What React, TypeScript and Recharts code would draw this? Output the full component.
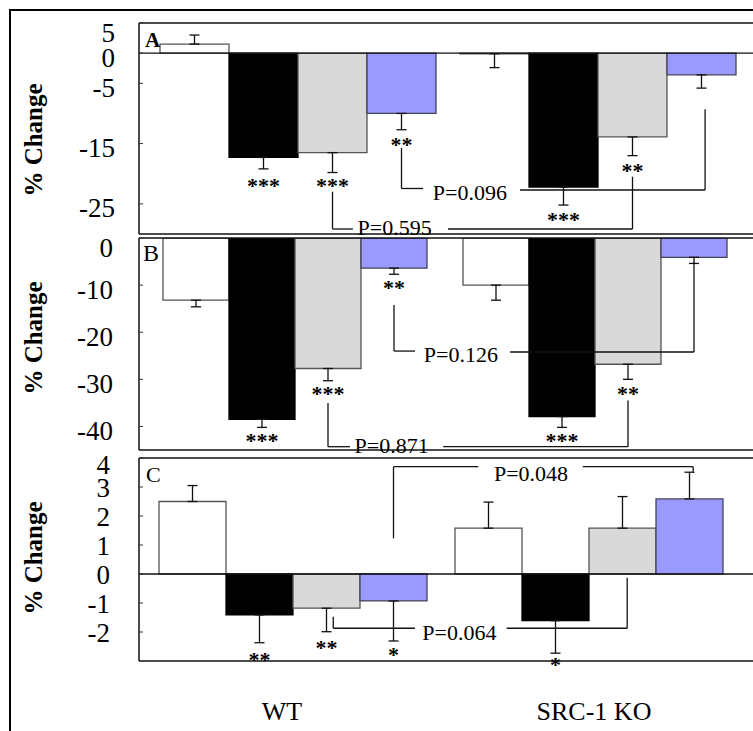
import React from 'react';
import { BarChart, Bar, XAxis, YAxis, ErrorBar, ReferenceLine, ReferenceDot } from 'recharts';

const FONT = "'Liberation Serif', 'Times New Roman', Times, serif";
const W = 753;
const H = 731;
const PLOT_LEFT = 139;
const PLOT_W = W - PLOT_LEFT;

const groups = ['WT', 'SRC-1 KO'];
const groupEdges = [0, 2];
const seriesKeys = ['white', 'black', 'gray', 'blue'];
const seriesFill = ['#ffffff', '#000000', '#d9d9d9', '#9999ff'];
const seriesStroke = ['#555555', '#000000', '#555555', '#444455'];

// panel A
const aWhite = [1.5, -0.1];
const aWhiteErr = [1.5, 2.3];
const aBlack = [-17.3, -22.2];
const aBlackErr = [1.9, 3.0];
const aGray = [-16.5, -13.9];
const aGrayErr = [3.3, 3.1];
const aBlue = [-10.0, -3.6];
const aBlueErr = [2.7, 2.2];
const aTicks = [5, 0, -5, -15, -25];

// panel B
const bWhite = [-13.2, -10.0];
const bWhiteErr = [1.4, 3.2];
const bBlack = [-38.5, -37.9];
const bBlackErr = [1.7, 2.3];
const bGray = [-27.7, -26.8];
const bGrayErr = [2.6, 3.2];
const bBlue = [-6.4, -4.1];
const bBlueErr = [1.3, 1.3];
const bTicks = [0, -10, -20, -30, -40];

// panel C
const cWhite = [2.5, 1.58];
const cWhiteErr = [0.55, 0.9];
const cBlack = [-1.41, -1.61];
const cBlackErr = [0.96, 1.12];
const cGray = [-1.18, 1.58];
const cGrayErr = [0.81, 1.09];
const cBlue = [-0.93, 2.59];
const cBlueErr = [1.38, 0.92];
const cTicks = [4, 3, 2, 1, 0, -1, -2];

type X = number | [number, number]; // number = position on the group axis, [group, series] = bar centre
type Pt = [X, number];
interface Star { g: number; s: number; y: number; t: string }
interface Bracket { left: Pt[]; right: Pt[]; text: string; at: Pt }

const aStars: Star[] = [
  { g: 0, s: 1, y: -21.5, t: '***' },
  { g: 0, s: 2, y: -21.5, t: '***' },
  { g: 0, s: 3, y: -14.7, t: '**' },
  { g: 1, s: 1, y: -27.2, t: '***' },
  { g: 1, s: 2, y: -19.05, t: '**' },
];
const bStars: Star[] = [
  { g: 0, s: 1, y: -42.45, t: '***' },
  { g: 0, s: 2, y: -32.6, t: '***' },
  { g: 0, s: 3, y: -9.98, t: '**' },
  { g: 1, s: 1, y: -42.45, t: '***' },
  { g: 1, s: 2, y: -32.4, t: '**' },
];
const cStars: Star[] = [
  { g: 0, s: 1, y: -2.86, t: '**' },
  { g: 0, s: 2, y: -2.45, t: '**' },
  { g: 0, s: 3, y: -2.7, t: '*' },
  { g: 1, s: 1, y: -3.03, t: '*' },
];

const aBrackets: Bracket[] = [
  {
    left: [[[0, 3], -15.7], [[0, 3], -22.45], [0.917, -22.45]],
    right: [[1.24, -22.7], [1.857, -22.7], [1.857, -9.3]],
    text: 'P=0.096', at: [1.073, -24.36],
  },
  {
    left: [[[0, 2], -23.0], [[0, 2], -29.17], [0.683, -29.17]],
    right: [[1.0, -29.17], [[1, 2], -29.17], [[1, 2], -20.5]],
    text: 'P=0.595', at: [0.822, -30.16],
  },
];
const bBrackets: Bracket[] = [
  {
    left: [[[0, 3], -14.2], [[0, 3], -24.0], [0.9, -24.0]],
    right: [[1.217, -24.2], [[1, 3], -24.2], [[1, 3], -5.1]],
    text: 'P=0.126', at: [1.053, -26.3],
  },
  {
    left: [[[0, 2], -35.0], [[0, 2], -44.3], [0.683, -44.3]],
    right: [[0.994, -44.3], [[1, 2], -44.3], [[1, 2], -34.5]],
    text: 'P=0.871', at: [0.822, -45.6],
  },
];
const cBrackets: Bracket[] = [
  {
    left: [[[0, 3], 1.23], [[0, 3], 3.7], [1.126, 3.7]],
    right: [[1.479, 3.7], [1.852, 3.7], [1.852, 3.53]],
    text: 'P=0.048', at: [1.304, 3.21],
  },
  {
    left: [[0.636, -1.47], [0.636, -1.87], [0.912, -1.87]],
    right: [[1.222, -1.87], [1.629, -1.87], [1.629, -0.13]],
    text: 'P=0.064', at: [1.062, -2.28],
  },
];

const xNudge: Record<string, number> = { WT: -11, 'SRC-1 KO': 5 };

interface PanelCfg {
  letter: string; letterBold: boolean; letterSize: number; letterDx: number; letterDy: number;
  top: number; bottom: number;
  domain: [number, number]; ticks: number[]; zeroLine: boolean;
  padL: number; padR: number; gap: number;
  tickMargin: number; tickShift: number; titleShift: number;
  values: number[][]; errors: number[][];
  stars: Star[]; brackets: Bracket[];
  showX: boolean;
}

const panels: PanelCfg[] = [
  {
    letter: 'A', letterBold: true, letterSize: 21, letterDx: 6, letterDy: 23.7,
    top: 23, bottom: 234, domain: [-30, 5], ticks: aTicks, zeroLine: true,
    padL: 9, padR: 5, gap: 12, tickMargin: 24, tickShift: 4, titleShift: 11.5,
    values: [aWhite, aBlack, aGray, aBlue], errors: [aWhiteErr, aBlackErr, aGrayErr, aBlueErr],
    stars: aStars, brackets: aBrackets, showX: false,
  },
  {
    letter: 'B', letterBold: false, letterSize: 24, letterDx: 4, letterDy: 22.7,
    top: 238, bottom: 450, domain: [-45, 0], ticks: bTicks, zeroLine: false,
    padL: 6, padR: 8, gap: 18, tickMargin: 26, tickShift: 4, titleShift: -6,
    values: [bWhite, bBlack, bGray, bBlue], errors: [bWhiteErr, bBlackErr, bGrayErr, bBlueErr],
    stars: bStars, brackets: bBrackets, showX: false,
  },
  {
    letter: 'C', letterBold: false, letterSize: 22, letterDx: 7, letterDy: 23.7,
    top: 458, bottom: 661, domain: [-3, 4], ticks: cTicks, zeroLine: true,
    padL: 6, padR: 16, gap: 14, tickMargin: 29, tickShift: 1, titleShift: -1.5,
    values: [cWhite, cBlack, cGray, cBlue], errors: [cWhiteErr, cBlackErr, cGrayErr, cBlueErr],
    stars: cStars, brackets: cBrackets, showX: true,
  },
];

const X_AXIS_H = 70;

const Panel = ({ cfg }: { cfg: PanelCfg }) => {
  const rows = groups.map((name, g) => {
    const r: any = { name, edge: groupEdges[g] };
    seriesKeys.forEach((k, s) => {
      const v = cfg.values[s][g];
      const e = cfg.errors[s][g];
      r[k] = v;
      r[k + 'Err'] = v >= 0 ? [0, e] : [e, 0];
    });
    return r;
  });

  const band = (PLOT_W - cfg.padL - cfg.padR) / 2;
  const barW = Math.floor((band - 2 * cfg.gap) / 4);
  const pos = (x: X) => (typeof x === 'number' ? x : x[0] + (cfg.gap + (x[1] + 0.5) * barW) / band);

  const segs = (pts: Pt[], key: string) =>
    pts.slice(1).map((p, i) => (
      <ReferenceLine
        key={key + i}
        xAxisId="pos"
        segment={[{ x: pos(pts[i][0]), y: pts[i][1] }, { x: pos(p[0]), y: p[1] }]}
        stroke="#111"
        strokeWidth={1.3}
        ifOverflow="visible"
      />
    ));

  const renderYTick = (p: any) => {
    const v = p.payload.value;
    const ax = p.x + cfg.tickMargin;
    const extra = v === cfg.domain[1] ? 6 : 0;
    return (
      <g>
        <line x1={ax} x2={ax + 4} y1={p.y} y2={p.y} stroke="#333" strokeWidth={1} />
        <text x={p.x} y={p.y + cfg.tickShift + extra} dy="0.35em" textAnchor="end" fontFamily={FONT} fontSize={27} fill="#000">
          {v}
        </text>
      </g>
    );
  };

  const renderTitle = (p: any) => {
    const vb = p.viewBox;
    const cx = vb.x + 33;
    const cy = vb.y + vb.height / 2 + cfg.titleShift;
    return (
      <g>
        <text x={cx} y={cy} dy="0.35em" transform={`rotate(-90 ${cx} ${cy})`} textAnchor="middle"
          fontFamily={FONT} fontWeight="bold" fontSize={25} fill="#000">
          % Change
        </text>
        <text x={vb.x + vb.width + cfg.letterDx} y={vb.y + cfg.letterDy} fontFamily={FONT}
          fontWeight={cfg.letterBold ? 'bold' : 'normal'} fontSize={cfg.letterSize} fill="#000">
          {cfg.letter}
        </text>
      </g>
    );
  };

  const renderXTick = (p: any) => (
    <text x={p.x + (xNudge[p.payload.value] ?? 0)} y={p.y + 59} textAnchor="middle" fontFamily={FONT} fontSize={26} fill="#000">
      {p.payload.value}
    </text>
  );

  return (
    <BarChart
      width={W}
      height={H}
      data={rows}
      margin={{ top: cfg.top, right: 0, left: 0, bottom: H - cfg.bottom - (cfg.showX ? X_AXIS_H : 0) }}
      barGap={0}
      barCategoryGap={cfg.gap}
    >
      <XAxis
        xAxisId="cat"
        dataKey="name"
        hide={!cfg.showX}
        padding={{ left: cfg.padL, right: cfg.padR }}
        axisLine={false}
        tickLine={false}
        tickSize={0}
        tickMargin={0}
        height={X_AXIS_H}
        interval={0}
        tick={renderXTick}
      />
      <XAxis
        xAxisId="pos"
        dataKey="edge"
        type="number"
        domain={[0, 2]}
        allowDataOverflow
        hide
        padding={{ left: cfg.padL, right: cfg.padR }}
      />
      <YAxis
        type="number"
        domain={cfg.domain}
        allowDataOverflow
        ticks={cfg.ticks}
        interval={0}
        width={PLOT_LEFT}
        tickSize={0}
        tickMargin={cfg.tickMargin}
        axisLine={{ stroke: '#111', strokeWidth: 1.5 }}
        tickLine={false}
        tick={renderYTick}
        label={renderTitle}
      />
      {cfg.zeroLine && <ReferenceLine xAxisId="cat" y={0} stroke="#111" strokeWidth={1.3} />}
      {seriesKeys.map((k, s) => (
        <Bar key={k} xAxisId="cat" dataKey={k} fill={seriesFill[s]} stroke={seriesStroke[s]} strokeWidth={1.3} isAnimationActive={false}>
          <ErrorBar dataKey={k + 'Err'} width={5} stroke="#111" strokeWidth={1.3} isAnimationActive={false} />
        </Bar>
      ))}
      <ReferenceLine xAxisId="cat" y={cfg.domain[1]} stroke="#111" strokeWidth={1.5} ifOverflow="visible" />
      <ReferenceLine xAxisId="cat" y={cfg.domain[0]} stroke="#111" strokeWidth={1.5} ifOverflow="visible" />
      {cfg.brackets.map((b, i) => [...segs(b.left, `l${i}-`), ...segs(b.right, `r${i}-`)])}
      {cfg.brackets.map((b, i) => (
        <ReferenceDot
          key={`bt${i}`}
          xAxisId="pos"
          x={pos(b.at[0])}
          y={b.at[1]}
          r={0}
          ifOverflow="visible"
          shape={(p: any) => (
            <text x={p.cx} y={p.cy} textAnchor="middle" fontFamily={FONT} fontSize={22} fill="#000">
              {b.text}
            </text>
          )}
        />
      ))}
      {cfg.stars.map((st, i) => (
        <ReferenceDot
          key={`st${i}`}
          xAxisId="pos"
          x={pos([st.g, st.s])}
          y={st.y}
          r={0}
          ifOverflow="visible"
          shape={(p: any) => (
            <text x={p.cx} y={p.cy} dy="0.45em" textAnchor="middle" fontFamily={FONT} fontWeight="bold" fontSize={22} fill="#000">
              {st.t}
            </text>
          )}
        />
      ))}
    </BarChart>
  );
};

export default function App() {
  return (
    <div style={{ position: 'absolute', left: 0, top: 0, width: W, height: H, overflow: 'hidden', background: '#fff' }}>
      <div style={{ position: 'absolute', left: 9, top: 9, width: W, height: H, borderLeft: '2px solid #000', borderTop: '2px solid #000' }} />
      {panels.map((cfg) => (
        <div key={cfg.letter} style={{ position: 'absolute', left: 0, top: 0 }}>
          <Panel cfg={cfg} />
        </div>
      ))}
    </div>
  );
}
